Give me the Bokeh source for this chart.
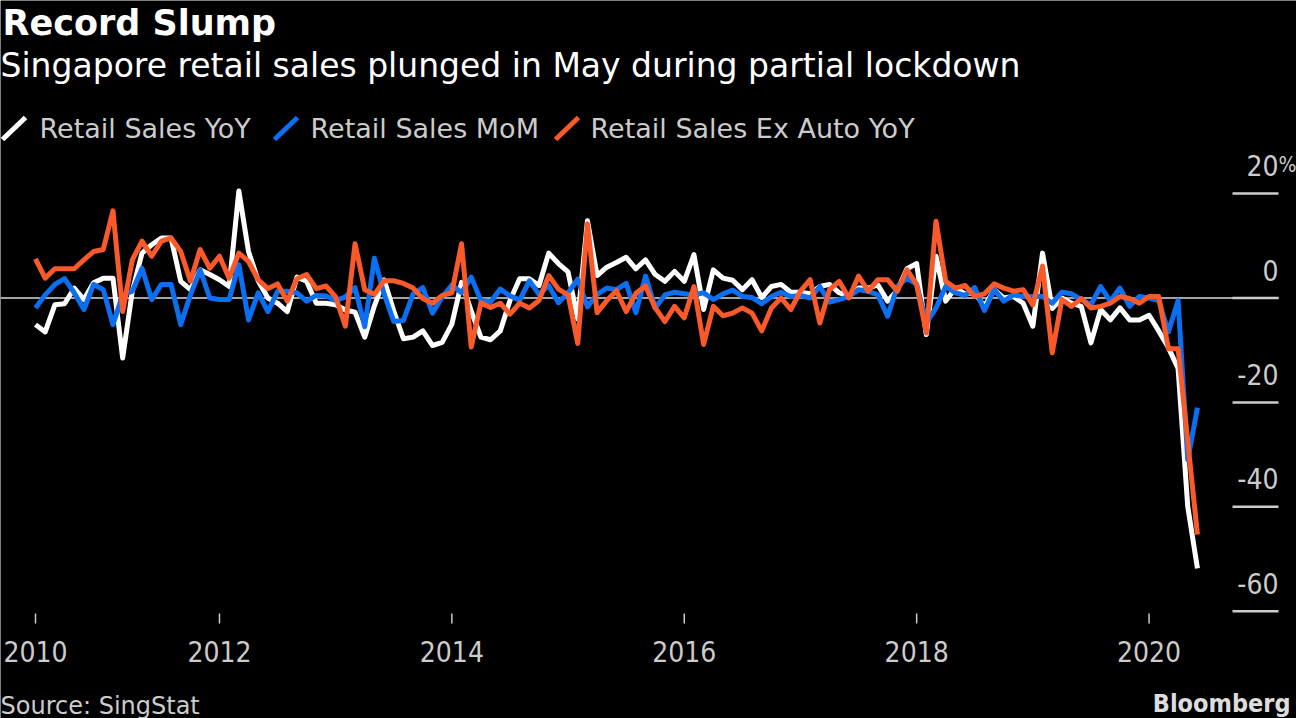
import numpy as np
from bokeh.plotting import figure
from bokeh.models import Range1d, Label
from bokeh.core.properties import value
from bokeh.embed import file_html
from bokeh.resources import INLINE

# ---------------- data (monthly, May 2010 .. May 2020) ----------------
retail_yoy = [
    -5.1, -6.5, -1.3, -1.1, 1.9, -0.3, 2.9, 3.8, 3.8, -11.5,
    1.3, 8.6, 10.2, 11.5, 11.5, 3.2, 1.6, 5.4, 4.5, 3.5,
    2.2, 20.5, 8.9, 3.3, 0.0, -1.0, -2.6, 4.0, 3.2, -1.0,
    -1.0, -1.3, -2.3, -2.7, -7.5, -1.5, 3.5, -2.5, -7.8, -7.5,
    -6.3, -9.1, -8.5, -5.0, 3.0, -2.5, -7.5, -8.0, -6.3, -0.5,
    3.7, 3.7, 2.4, 8.6, 6.6, 5.0, -4.0, 14.8, 4.3, 5.9,
    6.8, 7.8, 5.6, 7.3, 4.5, 3.2, 5.1, 3.2, 8.3, -2.2,
    5.4, 3.8, 3.4, 1.6, 3.5, 0.1, 2.2, 2.6, 1.1, 1.1,
    0.8, 2.2, 2.6, 1.0, 0.3, 1.9, 1.9, 2.5, -0.6, 1.5,
    5.6, 6.6, -7.0, 8.0, -0.6, 1.9, 0.8, 1.0, -1.6, 1.6,
    0.0, 0.3, -1.0, -5.4, 8.6, -2.0, 0.0, -1.0, -1.6, -8.6,
    -2.2, -4.2, -1.9, -4.2, -4.2, -3.3, -6.3, -9.5, -13.5, -40.0,
    -51.8,
]
retail_mom = [
    -1.9, 0.6, 2.6, 3.7, 1.0, -2.2, 2.6, 1.6, -5.1, 0.6,
    1.3, 5.7, -0.3, 2.6, 2.6, -5.1, 0.6, 5.4, 0.0, -0.3,
    -0.3, 6.4, -4.2, 1.0, -2.6, 1.3, 1.3, 1.0, -0.6, 0.5,
    0.4, -0.5, 0.2, 2.0, -5.5, 7.6, 0.8, -4.5, -4.3, 0.8,
    2.0, -2.9, 0.2, 2.5, 1.0, 4.0, -0.5, -0.7, 1.7, 0.4,
    -0.4, 3.3, 0.7, 2.4, -0.9, 1.0, 3.6, -1.7, 0.7, 1.9,
    1.6, 2.8, -2.8, 4.2, -1.9, 0.6, 1.1, 0.8, 0.6, 1.0,
    -0.3, 0.8, 1.5, 0.3, 0.1, -1.1, 0.3, 1.1, 0.3, 0.5,
    0.0, 2.2, -0.8, -0.3, 0.3, 1.6, 1.3, 0.6, -3.5, 2.2,
    3.8, 2.6, -4.8, -1.9, 2.2, 1.0, 0.5, 2.0, -2.4, 1.6,
    -0.6, 0.6, 0.3, 0.3, 0.3, -1.0, 1.1, 0.8, -0.3, -1.3,
    2.2, -0.6, 1.9, -1.6, 0.3, 0.0, -0.5, -6.5, -0.5, -31.0,
    -21.0,
]
retail_ex_auto_yoy = [
    7.5, 3.8, 5.6, 5.6, 5.6, 7.3, 8.9, 9.3, 16.7, -2.6,
    7.3, 10.9, 8.0, 10.9, 11.5, 8.9, 3.2, 9.3, 5.7, 8.0,
    3.8, 8.6, 7.0, 3.5, 1.8, 2.7, -0.6, 3.7, 4.5, 1.8,
    2.3, 0.2, -5.4, 10.4, 1.6, 0.7, 3.3, 3.3, 2.8, 1.9,
    -0.1, -1.0, 0.5, 1.0, 10.4, -9.4, -0.9, -1.8, -1.0, -3.1,
    -1.0, -1.9, -0.5, 4.3, 1.7, 0.6, -8.7, 14.2, -2.8, -0.5,
    1.4, -2.6, 0.9, 2.3, -1.9, -4.5, -1.6, -3.8, 2.2, -8.9,
    -1.6, -3.4, -2.9, -1.9, -2.9, -6.3, -1.9, 0.0, -2.2, 1.3,
    3.5, -4.8, 1.6, 3.2, 0.0, 4.2, 1.3, 3.5, 3.5, 1.3,
    5.4, 2.6, -6.7, 14.7, 3.2, 1.9, 2.4, 0.3, 0.8, 2.7,
    1.9, 1.3, 1.6, -1.3, 6.1, -10.5, -0.3, -1.6, -0.1, -1.9,
    -1.6, -1.0, 0.3, -0.1, -1.0, 0.3, 0.3, -9.7, -9.7, -27.5,
    -45.3,
]
month_index = list(range(len(retail_yoy)))  # 0 = May 2010 ... 120 = May 2020

series_names = ["Retail Sales YoY", "Retail Sales MoM", "Retail Sales Ex Auto YoY"]
series_colors = ["#ffffff", "#0b6ff2", "#fa5a2a"]

x_tick_positions = [0, 19, 43, 67, 91, 115]
x_tick_labels = ["2010", "2012", "2014", "2016", "2018", "2020"]
y_ticks = [20, 0, -20, -40, -60]
y_tick_labels = ["20", "0", "-20", "-40", "-60"]

# ---------------- geometry (pixel layout of the reference) ----------------
W, H = 1296, 718
PX0 = 35.0            # pixel x of the first month
PX_PER_MONTH = 9.683
ZERO_PY = 297.5       # pixel y of the zero line
PX_PER_UNIT = 5.22


def dx(px):
    return (px - PX0) / PX_PER_MONTH


def dy(py):
    return (ZERO_PY - py) / PX_PER_UNIT


TXT = "#cccccc"
COND = "DejaVu Sans Condensed"

p = figure(
    width=W, height=H,
    x_range=Range1d(dx(0), dx(W)), y_range=Range1d(dy(H), dy(0)),
    output_backend="svg", toolbar_location=None,
    x_axis_location=None, y_axis_location=None,
    min_border=0,
    background_fill_color="black", border_fill_color="black",
    outline_line_color=None,
)
p.grid.visible = False

# ---- x axis: short tick marks below the plot area and year labels ----
n_xt = len(x_tick_positions)
p.segment(x0=x_tick_positions, y0=[dy(613)] * n_xt, x1=x_tick_positions, y1=[dy(623)] * n_xt,
          line_color=TXT, line_width=1.5)
p.text(x=x_tick_positions, y=[dy(651)] * n_xt, text=x_tick_labels, text_align="center",
       text_baseline="middle", text_color=TXT, text_font=value(COND), text_font_size="28px")

# ---- zero line and right-hand y ticks ----
tick_x0, tick_x1 = dx(1232), dx(1278)
p.segment(x0=[dx(0)], y0=[0], x1=[tick_x1], y1=[0], line_color="#dddddd", line_width=1.6)
n_yt = len(y_ticks)
p.segment(x0=[tick_x0] * n_yt, y0=y_ticks, x1=[tick_x1] * n_yt, y1=y_ticks,
          line_color=TXT, line_width=2.5)
p.text(x=[tick_x1] * n_yt, y=y_ticks, text=y_tick_labels, text_align="right",
       text_baseline="middle", y_offset=-28, text_color=TXT,
       text_font=value(COND), text_font_size="28px")
p.text(x=[tick_x1], y=[y_ticks[0]], text=["%"], text_align="left",
       text_baseline="middle", y_offset=-29, x_offset=0, text_color=TXT,
       text_font=value(COND), text_font_size="21px")

# ---- data lines ----
for vals, col in zip([retail_yoy, retail_mom, retail_ex_auto_yoy], series_colors):
    p.line(month_index, vals, line_color=col, line_width=5, line_join="round")


def label(x, cy, text, size, color, font="DejaVu Sans", style="normal", align="left"):
    p.add_layout(Label(x=x, y=H - cy, x_units="screen", y_units="screen", text=text,
                       text_font=font, text_font_style=style, text_font_size=size,
                       text_color=color, text_align=align, text_baseline="middle"))


# ---- titles ----
label(2, 22.5, "Record Slump", "35px", "white", style="bold")
label(0, 64.5, "Singapore retail sales plunged in May during partial lockdown", "33px", "white")

# ---- legend ----
legend_slash_px = [2, 274, 555]
legend_text_px = [39, 310, 590]
for sx, tx, name, col in zip(legend_slash_px, legend_text_px, series_names, series_colors):
    p.segment(x0=[dx(sx)], y0=[dy(139)], x1=[dx(sx + 23)], y1=[dy(117)],
              line_color=col, line_width=5)
    label(tx, 127.5, name, "27px", TXT)

# ---- footer ----
label(0, 705, "Source: SingStat", "24px", TXT)
label(1290, 703, "Bloomberg", "25px", "#dddddd", font=COND, style="bold", align="right")

open("out.html", "w").write(file_html(p, INLINE))
